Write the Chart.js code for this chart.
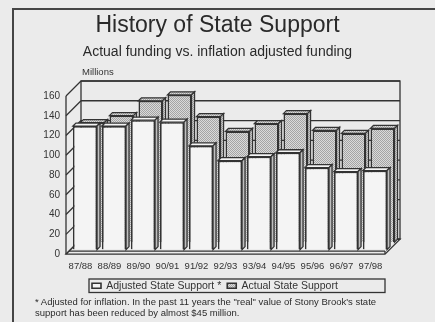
<!DOCTYPE html>
<html>
<head>
<meta charset="utf-8">
<script src="https://cdn.jsdelivr.net/npm/chart.js@4.4.1/dist/chart.umd.min.js"></script>
<style>
  html, body { margin: 0; padding: 0; background: #ebebeb; }
  .page { position: relative; width: 435px; height: 322px; overflow: hidden; }
  .frame { position: absolute; left: 12px; top: 8px; width: 440px; height: 330px;
           border-left: 2px solid #454545; border-top: 2px solid #454545; }
  #stateChart { position: absolute; left: 0; top: 0; }
  .note { position: absolute; left: 35px; top: 296px; color: #2b2b2b;
          font: 9.5px/11px "Liberation Sans", Arial, sans-serif; }
</style>
</head>
<body>
<div class="page">
  <div class="frame"></div>
  <canvas id="stateChart" width="435" height="322"></canvas>
  <div class="note">* Adjusted for inflation. In the past 11 years the "real" value of Stony Brook's state<br>support has been reduced by almost $45 million.</div>
</div>
<script>
// Data start
const seasons = ["87/88", "88/89", "89/90", "90/91", "91/92", "92/93", "93/94", "94/95", "95/96", "96/97", "97/98"];
const adjustedSupport = [125, 125, 131, 129, 105, 90, 94, 98, 83, 79, 80];
const actualSupport = [121, 128, 143, 149, 127, 112, 120, 130, 113, 110, 115];
const yTicks = [0, 20, 40, 60, 80, 100, 120, 140, 160];
// Data end

const ink = "#333333";
const fontFamily = '"Liberation Sans", Arial, sans-serif';
const wallDepth = 15;
const barDepth = 3;
const rowShift = [[4.5, -4.5], [12, -12]];

function makeStipple() {
    const c = document.createElement("canvas");
    c.width = 2;
    c.height = 2;
    const g = c.getContext("2d");
    g.fillStyle = "#dadada";
    g.fillRect(0, 0, 2, 2);
    g.fillStyle = "#a4a4a4";
    g.fillRect(0, 0, 1, 1);
    g.fillRect(1, 1, 1, 1);
    return g.createPattern(c, "repeat");
}

const ctx = document.getElementById("stateChart").getContext("2d");
const stipple = makeStipple();

function line(c, x1, y1, x2, y2) {
    c.beginPath();
    c.moveTo(x1, y1);
    c.lineTo(x2, y2);
    c.stroke();
}

// 3D box: left wall, back wall, floor
const wallsPlugin = {
    id: "walls",
    beforeDatasetsDraw(chart) {
        const c = chart.ctx;
        const a = chart.chartArea;
        const y = chart.scales.y;
        const d = wallDepth;
        c.save();
        c.strokeStyle = ink;
        c.lineWidth = 1.3;
        y.ticks.forEach(t => {
            const py = y.getPixelForValue(t.value);
            line(c, a.left + d, py - d, a.right + d, py - d);
            line(c, a.left, py, a.left + d, py - d);
        });
        c.strokeRect(a.left + d, a.top - d, a.right - a.left, a.bottom - a.top);
        line(c, a.left, a.top, a.left, a.bottom);
        // floor
        c.beginPath();
        c.moveTo(a.left, a.bottom);
        c.lineTo(a.right, a.bottom);
        c.lineTo(a.right + d, a.bottom - d);
        c.lineTo(a.left + d, a.bottom - d);
        c.closePath();
        c.stroke();
        line(c, a.left + 3, a.bottom - 3, a.right, a.bottom - 3);
        line(c, a.right, a.bottom, a.right, a.bottom - 3);
        c.restore();
    }
};

// shift each row back and add top / side faces
const barsPlugin = {
    id: "bars3d",
    beforeDatasetDraw(chart, args) {
        const s = rowShift[args.index];
        chart.ctx.save();
        chart.ctx.translate(s[0], s[1]);
    },
    afterDatasetDraw(chart, args) {
        const c = chart.ctx;
        const ds = chart.data.datasets[args.index];
        const k = barDepth;
        c.strokeStyle = ink;
        c.lineWidth = 1.3;
        args.meta.data.forEach(bar => {
            const p = bar.getProps(["x", "y", "base", "width"], true);
            const l = p.x - p.width / 2;
            const r = p.x + p.width / 2;
            c.beginPath();
            c.moveTo(l, p.y);
            c.lineTo(l + k, p.y - k);
            c.lineTo(r + k, p.y - k);
            c.lineTo(r, p.y);
            c.closePath();
            c.fillStyle = ds.topColor;
            c.fill();
            c.stroke();
            c.beginPath();
            c.moveTo(r, p.y);
            c.lineTo(r + k, p.y - k);
            c.lineTo(r + k, p.base - k);
            c.lineTo(r, p.base);
            c.closePath();
            c.fillStyle = stipple;
            c.fill();
            c.stroke();
        });
        c.restore();
    }
};

// centre the titles on the page, place the legend, legend frame and "Millions" label
const extrasPlugin = {
    id: "extras",
    afterLayout(chart) {
        chart.boxes.forEach(box => {
            if (box.position === "top" && box.options && box.options.text) {
                box.left += 18;
                box.right += 18;
            }
        });
        const lg = chart.legend;
        const dx = 86 - lg.left;
        lg.left += dx;
        lg.right += dx;
        lg.top -= 5;
        lg.bottom -= 5;
    },
    afterDraw(chart) {
        const c = chart.ctx;
        const a = chart.chartArea;
        const hb = chart.legend.legendHitBoxes[0];
        c.save();
        c.strokeStyle = ink;
        c.lineWidth = 1.3;
        c.strokeRect(hb.left - 3, hb.top - 1.5, a.right - hb.left + 3, hb.height + 3);
        c.fillStyle = ink;
        c.font = "9.5px " + fontFamily;
        c.textAlign = "left";
        c.textBaseline = "middle";
        c.fillText("Millions", a.left + wallDepth + 1, a.top - wallDepth - 9);
        c.restore();
    }
};

const stateChart = new Chart(ctx, {
    type: "bar",
    data: {
        labels: seasons,
        datasets: [{
            label: "Adjusted State Support *",
            data: adjustedSupport,
            backgroundColor: "#f4f4f4",
            topColor: "#f4f4f4",
            borderColor: ink,
            borderWidth: 1.6,
            grouped: false,
            order: 0
        }, {
            label: "Actual State Support",
            data: actualSupport,
            backgroundColor: stipple,
            topColor: stipple,
            borderColor: ink,
            borderWidth: 1.6,
            grouped: false,
            order: 1
        }]
    },
    options: {
        responsive: false,
        animation: false,
        devicePixelRatio: 1,
        layout: { padding: { left: 14, top: 8, right: 50, bottom: 16 } },
        datasets: { bar: { categoryPercentage: 1, barPercentage: 0.83 } },
        scales: {
            x: {
                grid: { display: false, drawTicks: false },
                border: { display: false },
                ticks: { color: ink, font: { family: fontFamily, size: 9.5 }, padding: 7, maxRotation: 0, autoSkip: false }
            },
            y: {
                min: 0,
                max: 160,
                afterBuildTicks: scale => { scale.ticks = yTicks.map(v => ({ value: v })); },
                afterFit: scale => { scale.width = 52; },
                grid: { display: false, drawTicks: false },
                border: { display: false },
                ticks: { color: ink, font: { family: fontFamily, size: 10 }, padding: 6 }
            }
        },
        plugins: {
            title: {
                display: true,
                text: "History of State Support",
                color: "#2a2a2a",
                font: { family: fontFamily, size: 23, weight: "normal" },
                padding: { top: 4, bottom: 4 }
            },
            subtitle: {
                display: true,
                text: "Actual funding vs. inflation adjusted funding",
                color: "#2a2a2a",
                font: { family: fontFamily, size: 14, weight: "normal" },
                padding: { top: 0, bottom: 35.6 }
            },
            legend: {
                position: "bottom",
                align: "start",
                labels: {
                    color: ink,
                    boxWidth: 9,
                    boxHeight: 5,
                    padding: 6,
                    font: { family: fontFamily, size: 10.5 }
                }
            },
            tooltip: { enabled: false }
        }
    },
    plugins: [wallsPlugin, barsPlugin, extrasPlugin]
});
</script>
</body>
</html>
